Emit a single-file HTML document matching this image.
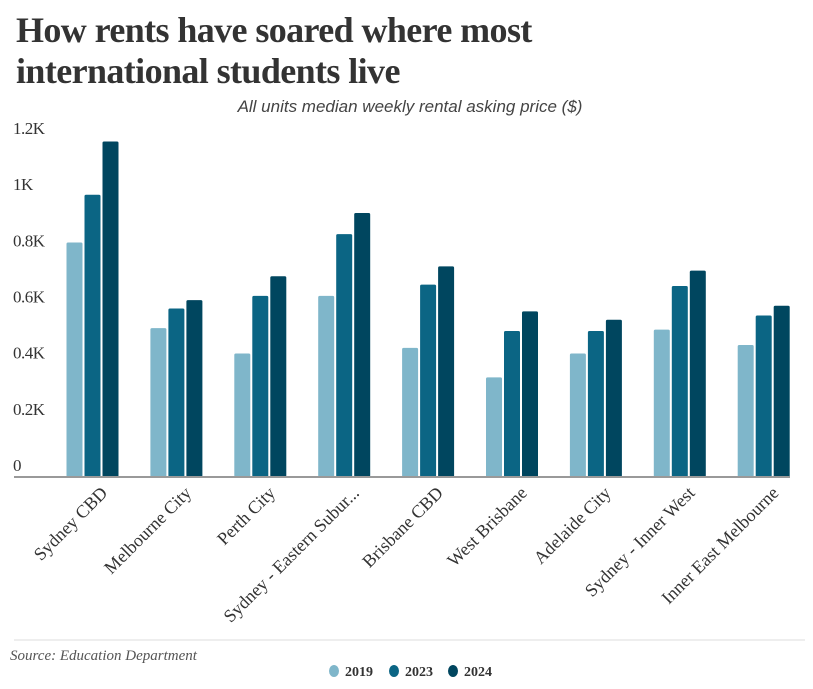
<!DOCTYPE html>
<html><head><meta charset="utf-8"><style>
body{margin:0;background:#fff;width:813px;height:689px;overflow:hidden;position:relative;font-family:"Liberation Serif",serif}
#title{position:absolute;left:16px;top:10px;font-size:36px;font-weight:bold;line-height:41px;color:#333;letter-spacing:-0.6px}
</style></head><body>
<div id="title">How rents have soared where most<br>international students live</div>
<svg id="chart" width="813" height="689" style="position:absolute;left:0;top:0">
<text x="410" y="112" text-anchor="middle" font-family="Liberation Sans, sans-serif" font-style="italic" font-size="17" fill="#444">All units median weekly rental asking price ($)</text>
<g id="bars"></g><g id="yticks"></g><g id="xlabels"></g>
<line x1="14" x2="790" y1="477" y2="477" stroke="#999" stroke-width="2"/>
<line x1="14" x2="805" y1="640" y2="640" stroke="#eee" stroke-width="2"/>
<text x="10" y="660" font-style="italic" font-size="15" fill="#555">Source: Education Department</text>
<g id="legend"></g>
</svg>
<script>
const categories=["Sydney CBD","Melbourne City","Perth City","Sydney - Eastern Subur...","Brisbane CBD","West Brisbane","Adelaide City","Sydney - Inner West","Inner East Melbourne"];
const series2019=[835,530,440,645,460,355,440,525,470];
const series2023=[1005,600,645,865,685,520,520,680,575];
const series2024=[1195,630,715,940,750,590,560,735,610];
const seriesNames=["2019","2023","2024"];
const colors=["#7fb6ca","#0b6584","#00465f"];
const yTicks=[0,200,400,600,800,1000,1200];
const yTickLabels=["0","0.2K","0.4K","0.6K","0.8K","1K","1.2K"];
const NS="http://www.w3.org/2000/svg";
function y(v){return 477-v*0.2808;}
function xc(i){return 92.5+i*83.9;}
const all=[series2019,series2023,series2024];
const bars=document.getElementById('bars');
all.forEach((s,si)=>s.forEach((v,i)=>{
 const r=document.createElementNS(NS,'rect');
 r.setAttribute('x',xc(i)-26+si*18);r.setAttribute('width',16);
 r.setAttribute('y',y(v));r.setAttribute('height',477-y(v));
 r.setAttribute('rx',1.5);r.setAttribute('fill',colors[si]);
 
 
 bars.appendChild(r);
}));
const yt=document.getElementById('yticks');
yTicks.forEach((t,i)=>{
 const tx=document.createElementNS(NS,'text');
 tx.setAttribute('x',13);tx.setAttribute('y',y(t)-6);
 tx.setAttribute('font-size',17);tx.setAttribute('fill','#333');
 tx.setAttribute('letter-spacing','-0.5');
 tx.textContent=yTickLabels[i];
 
 
 yt.appendChild(tx);
});
const xl=document.getElementById('xlabels');
categories.forEach((c,i)=>{
 const tx=document.createElementNS(NS,'text');
 const X=xc(i)+16,Y=494;
 tx.setAttribute('x',X);tx.setAttribute('y',Y);
 tx.setAttribute('text-anchor','end');
 tx.setAttribute('transform','rotate(-45 '+X+' '+Y+')');
 tx.setAttribute('font-size',18);tx.setAttribute('fill','#333');
 tx.textContent=c;
 
 
 xl.appendChild(tx);
});
const lg=document.getElementById('legend');
const lx=[334,394,453];
seriesNames.forEach((n,i)=>{
 const g=document.createElementNS(NS,'g');
 
 
 const e=document.createElementNS(NS,'ellipse');
 e.setAttribute('cx',lx[i]);e.setAttribute('cy',671);e.setAttribute('rx',5);e.setAttribute('ry',6);
 e.setAttribute('fill',colors[i]);g.appendChild(e);
 const t=document.createElementNS(NS,'text');
 t.setAttribute('x',lx[i]+11);t.setAttribute('y',676);t.setAttribute('font-size',14);
 t.setAttribute('font-weight','bold');t.setAttribute('fill','#333');t.textContent=n;g.appendChild(t);
 lg.appendChild(g);
});
</script>
</body></html>
